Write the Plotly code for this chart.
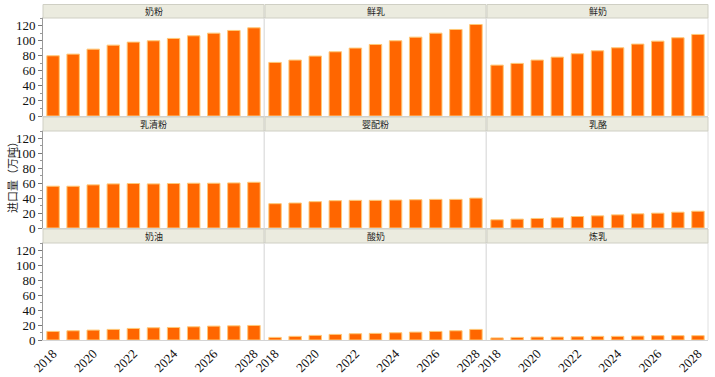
import plotly.graph_objects as go

years = [2018, 2019, 2020, 2021, 2022, 2023, 2024, 2025, 2026, 2027, 2028]
categories = ["奶粉", "鲜乳", "鲜奶", "乳清粉", "婴配粉", "乳酪", "奶油", "酸奶", "炼乳"]
milk_powder = [79.9, 82.1, 88.7, 94.0, 98.0, 99.8, 102.9, 106.4, 109.9, 113.5, 117.0]
fresh_milk_a = [71.1, 74.2, 79.5, 85.2, 90.1, 94.9, 99.8, 104.6, 109.9, 114.8, 121.4]
fresh_milk_b = [67.5, 69.8, 74.2, 78.1, 82.6, 86.5, 90.5, 95.4, 99.3, 103.8, 108.2]
whey_powder = [56.0, 56.0, 57.8, 59.1, 59.6, 59.1, 59.6, 60.0, 60.0, 60.4, 61.3]
infant_formula = [32.6, 33.5, 35.3, 36.6, 37.1, 37.1, 37.5, 37.9, 38.4, 38.4, 40.1]
cheese = [11.0, 11.9, 12.8, 13.7, 15.4, 16.3, 17.6, 19.0, 19.9, 21.2, 22.5]
cream = [11.5, 12.4, 13.3, 14.2, 15.5, 16.4, 16.8, 17.7, 18.6, 19.0, 19.5]
yogurt = [3.5, 4.9, 6.2, 7.5, 8.4, 8.9, 9.7, 10.6, 11.5, 12.4, 14.2]
condensed = [2.8, 3.5, 4.0, 4.0, 4.4, 4.9, 4.9, 5.3, 5.8, 5.8, 5.8]
series = [milk_powder, fresh_milk_a, fresh_milk_b, whey_powder, infant_formula,
          cheese, cream, yogurt, condensed]
y_ticks = [0, 20, 40, 60, 80, 100, 120]
x_ticks = [2018, 2020, 2022, 2024, 2026, 2028]
y_title = "进口量（万吨）"

W, H = 715, 377
ML, MR, MT, MB = 43, 7, 0, 37
PW = W - ML - MR
PH = H - MT - MB

def px_x(p):
    return (p - ML) / PW

def px_y(p):
    return (PH - (p - MT)) / PH

col_px = [(43, 264), (265, 486), (487, 708)]
row_plot_px = [(18, 116), (131, 228), (243, 340)]
row_strip_px = [(4.5, 18), (117, 131), (229, 243)]

fig = go.Figure()
layout = {}
shapes = []
annotations = []
serif = "Liberation Serif, Times New Roman, serif"

for i, (cat, vals) in enumerate(zip(categories, series)):
    r, c = divmod(i, 3)
    idx = i + 1
    xa = "x" if idx == 1 else f"x{idx}"
    ya = "y" if idx == 1 else f"y{idx}"
    fig.add_trace(go.Bar(
        x=years, y=vals, xaxis=xa, yaxis=ya, name=cat, showlegend=False,
        marker=dict(color="#ff6600", line=dict(color="#ffc977", width=1)),
        width=0.62,
    ))
    x0, x1 = col_px[c]
    yb, yt = row_plot_px[r]
    xdom = [px_x(x0), px_x(x1)]
    ydom = [px_y(yt), px_y(yb)]
    bottom = (r == 2)
    first = (c == 0)
    layout["xaxis" if idx == 1 else f"xaxis{idx}"] = dict(
        domain=xdom, anchor=ya, range=[2017.5, 2028.5],
        tickvals=x_ticks, ticktext=[str(v) for v in x_ticks],
        showticklabels=bottom, tickangle=-45,
        ticks="", ticklen=3, tickcolor="#999",
        tickfont=dict(family=serif, size=13, color="#111"),
        showgrid=False, zeroline=False,
        showline=True, linecolor="#d4d4d4", linewidth=1, mirror=True,
    )
    layout["yaxis" if idx == 1 else f"yaxis{idx}"] = dict(
        domain=ydom, anchor=xa, range=[0, 130],
        tickvals=y_ticks, showticklabels=first,
        ticks="outside" if first else "", ticklen=4, tickcolor="#777",
        minor=dict(dtick=10, ticks="outside" if first else "", ticklen=2, tickcolor="#999", showgrid=False),
        tickfont=dict(family=serif, size=13, color="#111"),
        showgrid=False, zeroline=False,
        showline=True, linecolor="#999" if first else "#e4e4e4", linewidth=1, mirror=False,
    )
    shapes.append(dict(type="line", xref="paper", yref="paper",
                       x0=xdom[1], x1=xdom[1], y0=ydom[0], y1=ydom[1],
                       line=dict(color="#e0e0e0", width=1)))
    sb, st = row_strip_px[r]
    shapes.append(dict(type="rect", xref="paper", yref="paper",
                       x0=xdom[0], x1=xdom[1], y0=px_y(st), y1=px_y(sb),
                       fillcolor="#ebebdf", line=dict(color="#cfcfc4", width=1), layer="above"))
    annotations.append(dict(text=cat, xref="paper", yref="paper",
                            x=(xdom[0] + xdom[1]) / 2, y=(px_y(st) + px_y(sb)) / 2,
                            showarrow=False, xanchor="center", yanchor="middle",
                            font=dict(family="Noto Sans CJK SC", size=9, color="#222")))

annotations.append(dict(text=y_title, xref="paper", yref="paper",
                        x=px_x(12), y=px_y(175), textangle=-90, showarrow=False,
                        xanchor="center", yanchor="middle",
                        font=dict(family="Noto Sans CJK SC", size=11, color="#222")))

fig.update_layout(
    width=W, height=H,
    margin=dict(l=ML, r=MR, t=MT, b=MB, autoexpand=False),
    paper_bgcolor="white", plot_bgcolor="white",
    bargap=0.38,
    shapes=shapes, annotations=annotations,
    **layout,
)
fig.write_html("out.html", config={"displayModeBar": False},
               post_script="document.body.style.margin='0';document.body.style.overflow='hidden';")
